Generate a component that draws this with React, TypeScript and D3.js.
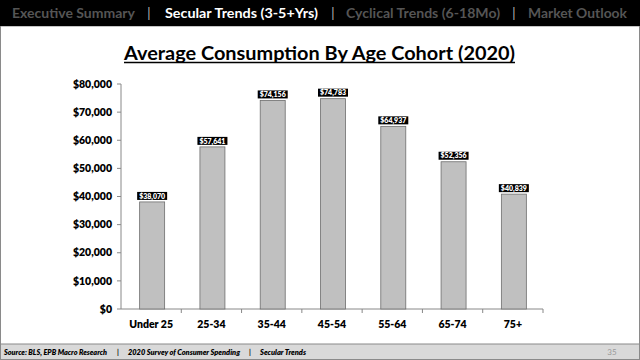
import React from "react";
import * as d3 from "d3";

const categories = ["Under 25", "25-34", "35-44", "45-54", "55-64", "65-74", "75+"];
const values = [38070, 57641, 74156, 74783, 64937, 52356, 40839];
const yTicks = [0, 10000, 20000, 30000, 40000, 50000, 60000, 70000, 80000];
const navItems = ["Executive Summary", "Secular Trends (3-5+Yrs)", "Cyclical Trends (6-18Mo)", "Market Outlook"];
const navActive = 1;
const title = "Average Consumption By Age Cohort (2020)";
const footerParts = ["Source: BLS, EPB Macro Research", "2020 Survey of Consumer Spending", "Secular Trends"];
const pageNum = "35";

const W = 640;
const H = 360;
const FONT = "Lato, 'Open Sans', sans-serif";

export default function App() {
  const x = d3.scaleBand<string>().domain(categories).range([121, 543]);
  const y = d3.scaleLinear().domain([0, 80000]).range([309, 84]);
  const fmt = d3.format("$,.0f");
  const barW = 25;
  const navX = [12, 165, 346, 528];
  const navLen = [123, 153, 154, 99];
  const sepX = [149, 333, 514];
  const footX = [4, 128, 260];
  const footLen = [103, 112, 46];
  const footSep = [118, 250];

  return (
    <svg width={W} height={H} style={{ position: "absolute", left: 0, top: 0 }} fontFamily={FONT}>
      <rect x={0} y={0} width={W} height={H} fill="#fff" />
      <rect x={0.5} y={26} width={W - 1} height={H - 26.5} fill="#fff" stroke="#8a8a8a" />
      {/* header */}
      <rect x={0} y={0} width={W} height={26} fill="#000" />
      {navItems.map((t, i) => (
        <text key={t} x={navX[i]} y={18} fontSize={13.5} fontWeight={700}
          textLength={navLen[i]} lengthAdjust="spacingAndGlyphs"
          fill={i === navActive ? "#fff" : "#555"}>{t}</text>
      ))}
      {sepX.map((sx, i) => (
        <text key={i} x={sx} y={18} fontSize={13} fill="#bbb" textAnchor="middle">|</text>
      ))}
      {/* title */}
      <text x={124} y={60} fontSize={19} fontWeight={700} fill="#000"
        textLength={391} lengthAdjust="spacingAndGlyphs">{title}</text>
      <line x1={124} x2={515} y1={62.5} y2={62.5} stroke="#000" strokeWidth={1.3} />
      {/* y axis */}
      <line x1={121} x2={121} y1={y(80000)} y2={y(0)} stroke="#888" />
      {yTicks.map((t) => (
        <g key={t}>
          <line x1={117} x2={121} y1={y(t)} y2={y(t)} stroke="#888" />
          <text x={112} y={y(t)} dy="0.35em" fontSize={10.5} fontWeight={800} textAnchor="end" fill="#000">{fmt(t)}</text>
        </g>
      ))}
      {/* x axis */}
      <line x1={121} x2={543} y1={y(0)} y2={y(0)} stroke="#888" />
      {categories.map((c) => (
        <line key={c + "t"} x1={(x(c) as number) + x.bandwidth()} x2={(x(c) as number) + x.bandwidth()}
          y1={y(0)} y2={y(0) + 4} stroke="#888" />
      ))}
      {/* bars */}
      {categories.map((c, i) => {
        const cx = (x(c) as number) + x.bandwidth() / 2 + 1;
        const v = values[i];
        return (
          <g key={c}>
            <rect x={cx - barW / 2} y={y(v)} width={barW} height={y(0) - y(v)} fill="#c0c0c0" stroke="#6e6e6e" strokeWidth={0.8} />
            <rect x={cx - 15} y={y(v) - 10} width={30} height={8} fill="#000" />
            <text x={cx} y={y(v) - 3.3} fontSize={7} fontWeight={800} fill="#fff" textAnchor="middle"
              textLength={26} lengthAdjust="spacingAndGlyphs">{fmt(v)}</text>
            <text x={cx - 1} y={328} fontSize={10.5} fontWeight={800} textAnchor="middle" fill="#000">{c}</text>
          </g>
        );
      })}
      {/* footer */}
      <rect x={0.5} y={344} width={W - 1} height={15.5} fill="#d9d9d9" stroke="#8a8a8a" />
      {footerParts.map((t, i) => (
        <text key={t} x={footX[i]} y={355} fontSize={7} fontWeight={800} fontStyle="italic" fill="#000"
          textLength={footLen[i]} lengthAdjust="spacingAndGlyphs">{t}</text>
      ))}
      {footSep.map((sx, i) => (
        <text key={"fs" + i} x={sx} y={355} fontSize={7} fontWeight={700} fontStyle="italic" fill="#000" textAnchor="middle">|</text>
      ))}
      <text x={612} y={355} fontSize={8} fill="#999" textAnchor="middle">{pageNum}</text>
    </svg>
  );
}
